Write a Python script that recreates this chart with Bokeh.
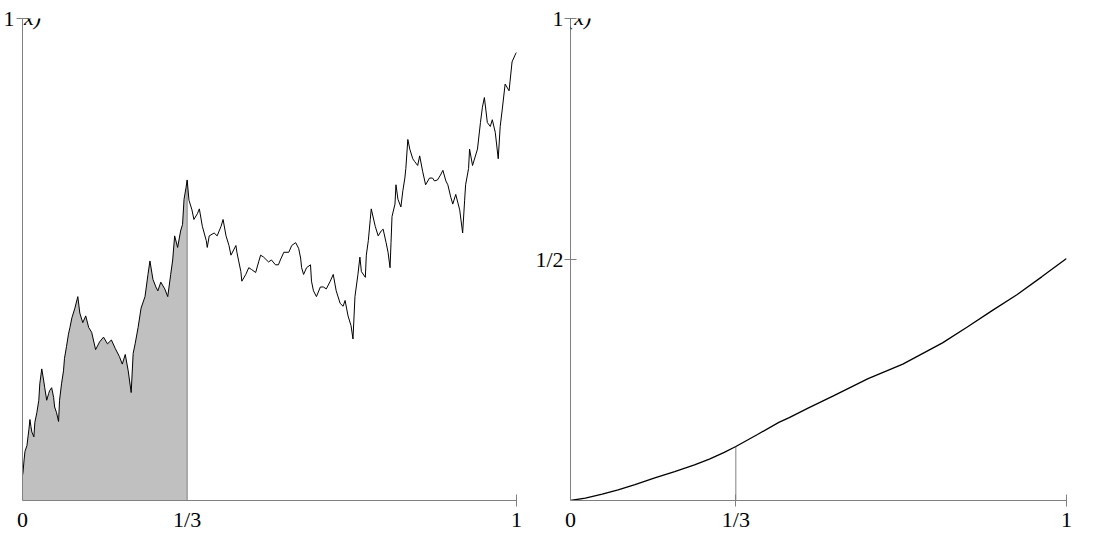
from bokeh.plotting import figure
from bokeh.models import Range1d, FixedTicker, Label
from bokeh.layouts import row
from bokeh.embed import file_html
from bokeh.resources import INLINE

# ---- data ----
f_x = [0.000, 0.001, 0.003, 0.005, 0.009, 0.013, 0.015, 0.017, 0.019,
       0.023, 0.025, 0.029, 0.033, 0.035, 0.039, 0.043, 0.045, 0.049,
       0.053, 0.055, 0.059, 0.063, 0.065, 0.069, 0.073, 0.075, 0.079,
       0.083, 0.085, 0.089, 0.093, 0.096, 0.100, 0.106, 0.112, 0.116,
       0.122, 0.128, 0.134, 0.140, 0.148, 0.156, 0.164, 0.172, 0.180,
       0.188, 0.196, 0.202, 0.208, 0.214, 0.220, 0.224, 0.228, 0.234,
       0.240, 0.248, 0.254, 0.258, 0.264, 0.270, 0.274, 0.280, 0.288,
       0.294, 0.300, 0.304, 0.308, 0.314, 0.320, 0.324, 0.327, 0.331,
       1 / 3,
       0.337, 0.343, 0.347, 0.354, 0.358, 0.364, 0.372, 0.374, 0.378,
       0.388, 0.394, 0.402, 0.406, 0.412, 0.418, 0.422, 0.432, 0.434,
       0.438, 0.442, 0.444, 0.452, 0.458, 0.464, 0.472, 0.478, 0.482,
       0.488, 0.498, 0.504, 0.512, 0.518, 0.522, 0.529, 0.539, 0.545,
       0.553, 0.559, 0.563, 0.565, 0.569, 0.575, 0.583, 0.585, 0.589,
       0.595, 0.603, 0.609, 0.615, 0.623, 0.629, 0.635, 0.643, 0.649,
       0.653, 0.659, 0.665, 0.669, 0.673, 0.679, 0.683, 0.686, 0.694,
       0.696, 0.700, 0.704, 0.706, 0.714, 0.720, 0.726, 0.730, 0.736,
       0.740, 0.744, 0.746, 0.748, 0.754, 0.756, 0.760, 0.766, 0.770,
       0.774, 0.776, 0.780, 0.784, 0.790, 0.794, 0.800, 0.804, 0.810,
       0.816, 0.824, 0.830, 0.834, 0.840, 0.846, 0.851, 0.857, 0.861,
       0.867, 0.871, 0.877, 0.885, 0.891, 0.895, 0.897, 0.903, 0.905,
       0.911, 0.921, 0.927, 0.931, 0.935, 0.941, 0.947, 0.951, 0.957,
       0.963, 0.967, 0.971, 0.977, 0.985, 0.987, 0.991, 0.997, 1.000]
f_y = [0.052, 0.058, 0.082, 0.102, 0.114, 0.148, 0.168, 0.154, 0.142,
       0.132, 0.162, 0.182, 0.208, 0.242, 0.273, 0.248, 0.234, 0.208,
       0.222, 0.228, 0.234, 0.214, 0.194, 0.182, 0.164, 0.208, 0.242,
       0.269, 0.295, 0.319, 0.345, 0.359, 0.379, 0.399, 0.423, 0.389,
       0.369, 0.383, 0.359, 0.349, 0.313, 0.329, 0.339, 0.325, 0.333,
       0.315, 0.299, 0.283, 0.303, 0.269, 0.224, 0.305, 0.325, 0.359,
       0.399, 0.423, 0.469, 0.497, 0.459, 0.443, 0.435, 0.453, 0.439,
       0.423, 0.469, 0.499, 0.549, 0.525, 0.559, 0.573, 0.625, 0.649,
       0.665,
       0.623, 0.603, 0.583, 0.595, 0.605, 0.569, 0.539, 0.525, 0.549,
       0.555, 0.549, 0.569, 0.583, 0.549, 0.529, 0.509, 0.529, 0.515,
       0.495, 0.475, 0.455, 0.469, 0.483, 0.479, 0.473, 0.495, 0.509,
       0.505, 0.495, 0.499, 0.489, 0.489, 0.499, 0.515, 0.515, 0.529,
       0.535, 0.523, 0.503, 0.483, 0.469, 0.483, 0.489, 0.455, 0.435,
       0.423, 0.443, 0.443, 0.439, 0.455, 0.469, 0.435, 0.409, 0.403,
       0.415, 0.383, 0.363, 0.335, 0.423, 0.469, 0.505, 0.475, 0.463,
       0.509, 0.539, 0.583, 0.605, 0.569, 0.549, 0.559, 0.563, 0.535,
       0.515, 0.483, 0.535, 0.589, 0.615, 0.655, 0.625, 0.609, 0.643,
       0.669, 0.689, 0.749, 0.729, 0.709, 0.703, 0.695, 0.715, 0.683,
       0.655, 0.669, 0.669, 0.663, 0.665, 0.675, 0.685, 0.663, 0.655,
       0.629, 0.615, 0.635, 0.603, 0.555, 0.623, 0.655, 0.689, 0.729,
       0.695, 0.729, 0.784, 0.816, 0.836, 0.784, 0.776, 0.790, 0.764,
       0.709, 0.776, 0.810, 0.864, 0.850, 0.870, 0.910, 0.924, 0.930]

F_x = [0.000, 0.030, 0.064, 0.096, 0.130, 0.170, 0.210, 0.250, 0.280,
       0.310, 1 / 3, 0.377, 0.420, 0.441, 0.480, 0.530, 0.600, 0.670,
       0.750, 0.800, 0.850, 0.900, 0.950, 1.000]
F_y = [0.000, 0.005, 0.013, 0.022, 0.033, 0.047, 0.060, 0.074, 0.086,
       0.100, 0.112, 0.137, 0.162, 0.172, 0.192, 0.217, 0.253, 0.283,
       0.327, 0.360, 0.394, 0.427, 0.464, 0.502]

x_mark = 1 / 3
x_ticks = [0, 1 / 3, 1]
x_tick_labels = ["0", "1/3", "1"]
f_y_ticks = [1]
f_y_tick_labels = ["1"]
F_y_ticks = [1 / 2, 1]
F_y_tick_labels = ["1/2", "1"]

AXIS = "#808080"
FILL = "#c0c0c0"
FONT = "Liberation Serif"
FS = "22px"
H = 534


def base(width, left, right, top):
    p = figure(width=width, height=H, x_range=Range1d(0, 1), y_range=Range1d(0, 1),
               output_backend="svg", toolbar_location=None,
               min_border_left=left, min_border_right=right,
               min_border_top=top, min_border_bottom=24)
    p.grid.visible = False
    p.outline_line_color = None
    p.background_fill_color = "white"
    p.border_fill_color = "white"
    return p


def style_axis(ax, ticks, labels, marks, standoff, baseline=None):
    ax.ticker = FixedTicker(ticks=ticks, minor_ticks=marks)
    ax.major_label_overrides = dict(zip(ticks, labels))
    ax.axis_line_color = AXIS
    ax.axis_line_width = 1
    ax.major_tick_line_color = None
    ax.major_tick_in = 0
    ax.major_tick_out = 6
    ax.minor_tick_line_color = AXIS
    ax.minor_tick_in = 6
    ax.minor_tick_out = 6
    ax.major_label_standoff = standoff
    ax.major_label_text_font = FONT
    ax.major_label_text_font_size = FS
    ax.major_label_text_color = "black"
    if baseline:
        ax.major_label_text_baseline = baseline


def corner_label(p, x, y, text, dx, dy):
    p.add_layout(Label(x=x, y=y, text=text, x_offset=dx, y_offset=dy,
                       text_font=FONT, text_font_style="italic", text_font_size=FS,
                       text_color="black", text_baseline="alphabetic", text_align="left"))


# ---- left: f(x) ----
n_fill = sum(1 for v in f_x if v <= x_mark)
fill_x = f_x[:n_fill]
fill_y = f_y[:n_fill]
f_mark = f_y[n_fill - 1]

p1 = base(532, 17, 16, 17)
style_axis(p1.xaxis[0], x_ticks, x_tick_labels, [1], 0)
style_axis(p1.yaxis[0], f_y_ticks, f_y_tick_labels, [1], 2, "top")
p1.varea(x=fill_x, y1=[0] * n_fill, y2=fill_y, fill_color=FILL)
p1.segment(x0=[x_mark], y0=[0], x1=[x_mark], y1=[f_mark], line_color=AXIS, line_width=1)
p1.line(f_x, f_y, line_color="black", line_width=1)
corner_label(p1, 0, 1, "f(x)", -12, 1)
corner_label(p1, 1, 0, "x", 7, -6)

# ---- right: F(x) ----
F_mark = F_y[F_x.index(x_mark)]
p2 = base(552, 35, 18, 18)
style_axis(p2.xaxis[0], x_ticks, x_tick_labels, [1 / 3, 1], 0)
style_axis(p2.yaxis[0], F_y_ticks, F_y_tick_labels, [1 / 2, 1], 1, "top")
p2.segment(x0=[x_mark], y0=[0], x1=[x_mark], y1=[F_mark], line_color=AXIS, line_width=1)
p2.line(F_x, F_y, line_color="black", line_width=1.3)
corner_label(p2, 0, 1, "F(x)", -17, 1)
corner_label(p2, 1, 0, "x", 6, -6)

layout = row(p1, p2)
open("out.html", "w").write(file_html(layout, INLINE))
